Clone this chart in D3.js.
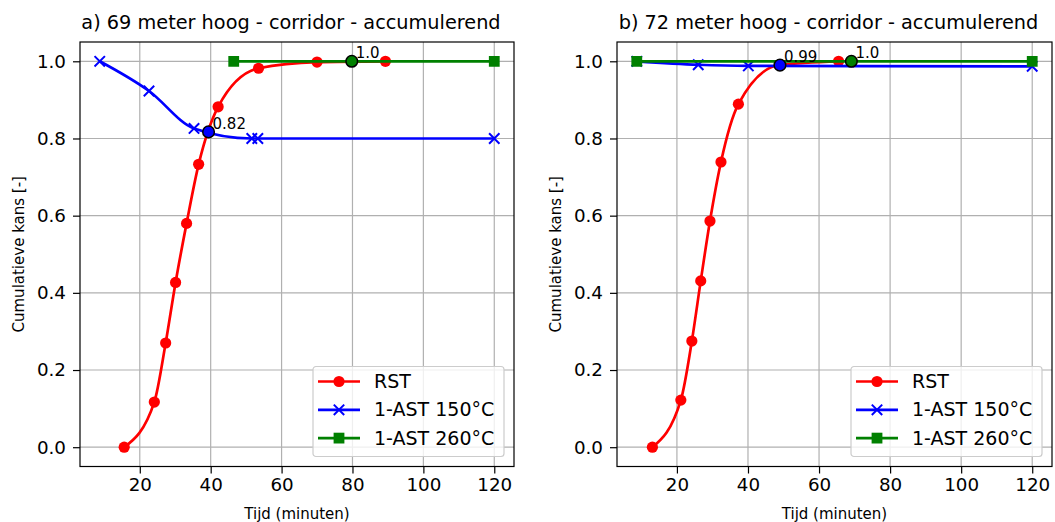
<!DOCTYPE html>
<html>
<head>
<meta charset="utf-8">
<script src="https://cdn.jsdelivr.net/npm/d3@7"></script>
<style>
html,body{margin:0;padding:0;background:#fff;}
svg{display:block;font-family:"DejaVu Sans",sans-serif;}
</style>
</head>
<body>
<svg id="chart" width="1055" height="522"></svg>
<script>
// ---- Data ----
const titles = ["a) 69 meter hoog - corridor - accumulerend", "b) 72 meter hoog - corridor - accumulerend"];
const seriesNames = ["RST", "1-AST 150°C", "1-AST 260°C"];
const xTicks = [20, 40, 60, 80, 100, 120];
const yTicks = [0.0, 0.2, 0.4, 0.6, 0.8, 1.0];
const xLabel = "Tijd (minuten)";
const yLabel = "Cumulatieve kans [-]";

// Panel a
const rstA_x = [15.6, 24.1, 27.3, 30.1, 33.2, 36.6, 42.1, 53.5, 70.0, 89.3];
const rstA_y = [0.0, 0.117, 0.270, 0.427, 0.580, 0.733, 0.882, 0.982, 0.998, 1.0];
const ast150A_x = [8.7, 22.6, 35.3, 51.6, 53.3, 120];
const ast150A_y = [1.0, 0.923, 0.826, 0.800, 0.800, 0.800];
const ast260A_x = [46.5, 120];
const ast260A_y = [1.0, 1.0];
const markA_x = [39.4, 79.8];
const markA_y = [0.817, 1.0];
const markA_label = ["0.82", "1.0"];

// Panel b
const rstB_x = [13.1, 21.1, 24.2, 26.7, 29.3, 32.4, 37.3, 49.0, 65.5];
const rstB_y = [0.0, 0.122, 0.275, 0.431, 0.586, 0.739, 0.889, 0.991, 1.0];
const ast150B_x = [8.7, 26.0, 40.1, 120];
const ast150B_y = [1.0, 0.991, 0.988, 0.987];
const ast260B_x = [8.7, 120];
const ast260B_y = [1.0, 1.0];
const markB_x = [49.0, 69.1];
const markB_y = [0.99, 1.0];
const markB_label = ["0.99", "1.0"];

// ---- Styles ----
const colors = ["#ff0000", "#0000ff", "#008000"];
const markerTypes = ["circle", "x", "square"];
const markColors = ["#0000ff", "#008000"];

const zip = (xs, ys) => xs.map((x, i) => [x, ys[i]]);

const panels = [
  {
    left: 80, right: 514, top: 42, bottom: 466.5, ylabX: 19,
    title: titles[0],
    series: [zip(rstA_x, rstA_y), zip(ast150A_x, ast150A_y), zip(ast260A_x, ast260A_y)],
    marks: markA_x.map((x, i) => ({x, y: markA_y[i], label: markA_label[i], color: markColors[i]}))
  },
  {
    left: 617, right: 1052, top: 42, bottom: 466.5, ylabX: 556,
    title: titles[1],
    series: [zip(rstB_x, rstB_y), zip(ast150B_x, ast150B_y), zip(ast260B_x, ast260B_y)],
    marks: markB_x.map((x, i) => ({x, y: markB_y[i], label: markB_label[i], color: markColors[i]}))
  }
];

const svg = d3.select("#chart");

function drawMarker(g, type, color) {
  if (type === "circle") {
    g.append("path").attr("d", d3.symbol().type(d3.symbolCircle).size(Math.PI * 5.6 * 5.6)())
      .attr("fill", color);
  } else if (type === "square") {
    g.append("path").attr("d", d3.symbol().type(d3.symbolSquare).size(10.8 * 10.8)())
      .attr("fill", color);
  } else {
    g.append("path").attr("d", "M-5.2,-5.2L5.2,5.2M-5.2,5.2L5.2,-5.2")
      .attr("stroke", color).attr("stroke-width", 2).attr("fill", "none");
  }
}

panels.forEach(p => {
  const allX = p.series.flat().map(d => d[0]);
  const allY = p.series.flat().map(d => d[1]);
  const [x0, x1] = d3.extent(allX);
  const [y0, y1] = d3.extent(allY);
  const mx = (x1 - x0) * 0.05, my = (y1 - y0) * 0.05;
  const x = d3.scaleLinear().domain([x0 - mx, x1 + mx]).range([p.left, p.right]);
  const y = d3.scaleLinear().domain([y0 - my, y1 + my]).range([p.bottom, p.top]);

  const g = svg.append("g");

  // grid
  g.append("g").selectAll("line").data(xTicks).join("line")
    .attr("x1", d => x(d)).attr("x2", d => x(d)).attr("y1", p.top).attr("y2", p.bottom)
    .attr("stroke", "#b0b0b0").attr("stroke-width", 1.2);
  g.append("g").selectAll("line").data(yTicks).join("line")
    .attr("y1", d => y(d)).attr("y2", d => y(d)).attr("x1", p.left).attr("x2", p.right)
    .attr("stroke", "#b0b0b0").attr("stroke-width", 1.2);

  // axes
  const xa = g.append("g").attr("transform", `translate(0,${p.bottom})`)
    .call(d3.axisBottom(x).tickValues(xTicks).tickSize(7).tickPadding(5).tickFormat(d3.format("d")));
  const ya = g.append("g").attr("transform", `translate(${p.left},0)`)
    .call(d3.axisLeft(y).tickValues(yTicks).tickSize(7).tickPadding(7).tickFormat(d3.format(".1f")));
  [xa, ya].forEach(a => {
    a.select(".domain").remove();
    a.selectAll(".tick line").attr("stroke", "#000").attr("stroke-width", 1.2);
    a.selectAll(".tick text").attr("font-size", 18.3).attr("fill", "#000")
      .attr("font-family", "DejaVu Sans");
  });

  // clip
  const clipId = "clip" + p.left;
  svg.append("clipPath").attr("id", clipId).append("rect")
    .attr("x", p.left).attr("y", p.top).attr("width", p.right - p.left).attr("height", p.bottom - p.top);

  const plot = g.append("g").attr("clip-path", `url(#${clipId})`);
  const line = d3.line().x(d => x(d[0])).y(d => y(d[1])).curve(d3.curveMonotoneX);

  p.series.forEach((s, i) => {
    plot.append("path").datum(s).attr("d", line)
      .attr("fill", "none").attr("stroke", colors[i]).attr("stroke-width", 2.7)
      .attr("stroke-linejoin", "round");
    s.forEach(d => {
      const mg = plot.append("g").attr("transform", `translate(${x(d[0])},${y(d[1])})`);
      drawMarker(mg, markerTypes[i], colors[i]);
    });
  });

  // highlight marks
  p.marks.forEach(m => {
    plot.append("circle").attr("cx", x(m.x)).attr("cy", y(m.y)).attr("r", 5.8)
      .attr("fill", m.color).attr("stroke", "#000").attr("stroke-width", 1.5);
    g.append("text").attr("x", x(m.x) + 4).attr("y", y(m.y) - 3)
      .attr("font-size", 15).attr("fill", "#000").text(m.label);
  });

  // frame
  g.append("rect").attr("x", p.left).attr("y", p.top)
    .attr("width", p.right - p.left).attr("height", p.bottom - p.top)
    .attr("fill", "none").attr("stroke", "#000").attr("stroke-width", 1.2);

  // title
  g.append("text").attr("x", (p.left + p.right) / 2 - 6).attr("y", 29)
    .attr("text-anchor", "middle").attr("font-size", 19.3).attr("fill", "#000").text(p.title);

  // axis labels
  g.append("text").attr("x", (p.left + p.right) / 2).attr("y", 519)
    .attr("text-anchor", "middle").attr("font-size", 15).attr("fill", "#000").text(xLabel);
  g.append("text").attr("transform", `translate(${p.ylabX},${(p.top + p.bottom) / 2}) rotate(-90)`)
    .attr("text-anchor", "middle").attr("dy", "0.35em").attr("font-size", 15).attr("fill", "#000").text(yLabel);

  // legend
  const lw = 191, lh = 90;
  const lx = p.right - 10 - lw, ly = p.bottom - 10 - lh;
  const lg = g.append("g").attr("transform", `translate(${lx},${ly})`);
  lg.append("rect").attr("width", lw).attr("height", lh).attr("rx", 3)
    .attr("fill", "#fff").attr("fill-opacity", 0.8).attr("stroke", "#cccccc").attr("stroke-width", 1.2);
  seriesNames.forEach((name, i) => {
    const ry = 15 + i * 28.3;
    lg.append("line").attr("x1", 5).attr("x2", 47).attr("y1", ry).attr("y2", ry)
      .attr("stroke", colors[i]).attr("stroke-width", 2.7);
    const mg = lg.append("g").attr("transform", `translate(26,${ry})`);
    drawMarker(mg, markerTypes[i], colors[i]);
    lg.append("text").attr("x", 61).attr("y", ry).attr("dy", "0.35em")
      .attr("font-size", 19).attr("fill", "#000").text(name);
  });
});
</script>
</body>
</html>
